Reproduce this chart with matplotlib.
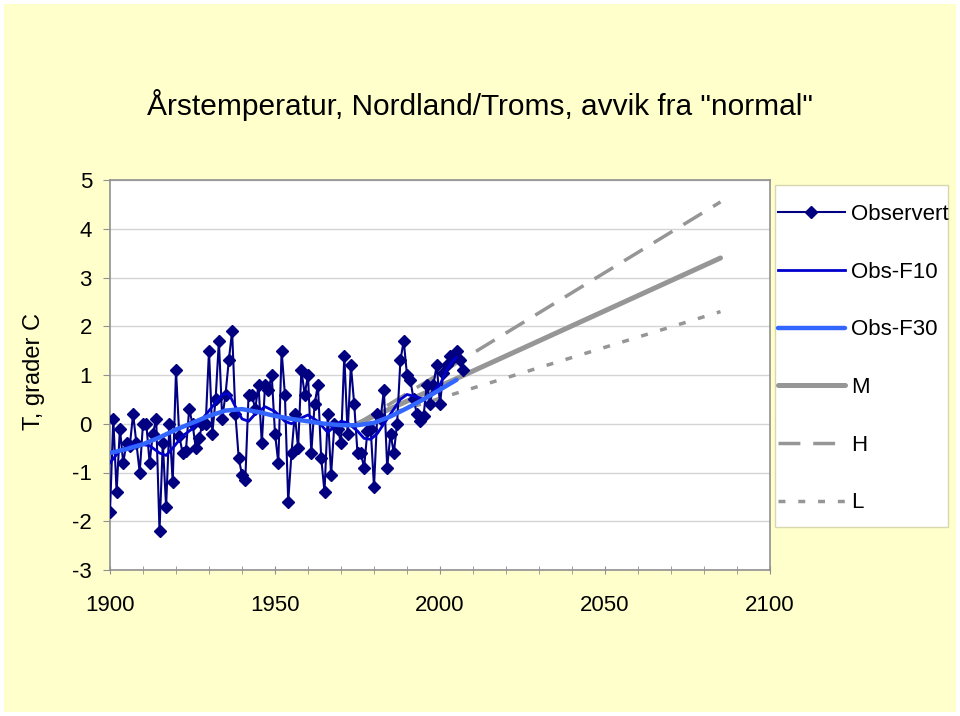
import numpy as np
import matplotlib.pyplot as plt
from matplotlib.patches import Rectangle

plt.rcParams["font.family"] = ["Liberation Sans", "DejaVu Sans"]
plt.rcParams["axes.unicode_minus"] = False

# observed annual temperature anomaly, 1900-2007
obs_years = np.arange(1900, 2008)
obs = [
    -1.8, 0.1, -1.4, -0.1, -0.8, -0.4, -0.45, 0.2, -0.4, -1.0,
    0.0, 0.0, -0.8, -0.2, 0.1, -2.2, -0.4, -1.7, 0.0, -1.2,
    1.1, -0.25, -0.6, -0.55, 0.3, 0.0, -0.5, -0.3, 0.0, 0.0,
    1.5, -0.2, 0.5, 1.7, 0.1, 0.6, 1.3, 1.9, 0.2, -0.7,
    -1.05, -1.15, 0.6, 0.6, 0.3, 0.8, -0.4, 0.8, 0.7, 1.0,
    -0.2, -0.8, 1.5, 0.6, -1.6, -0.6, 0.2, -0.5, 1.1, 0.6,
    1.0, -0.6, 0.4, 0.8, -0.7, -1.4, 0.2, -1.05, 0.0, -0.1,
    -0.4, 1.4, -0.2, 1.2, 0.4, -0.6, -0.6, -0.9, -0.15, -0.1,
    -1.3, 0.2, 0.1, 0.7, -0.9, -0.2, -0.6, 0.0, 1.3, 1.7,
    1.0, 0.9, 0.5, 0.2, 0.05, 0.15, 0.8, 0.4, 0.8, 1.2,
    0.4, 1.05, 1.2, 1.4, 1.35, 1.5, 1.3, 1.1,
]

# 10-year filtered series
f10_years = [1900, 1903, 1906, 1909, 1912, 1915, 1917, 1919, 1922, 1925,
             1928, 1931, 1934, 1936, 1938, 1940, 1942, 1944, 1947, 1950,
             1953, 1955, 1958, 1960, 1963, 1966, 1968, 1970, 1972, 1975,
             1977, 1979, 1981, 1983, 1986, 1988, 1990, 1993, 1995, 1997,
             2000, 2002, 2004, 2005]
f10 = [-0.8, -0.55, -0.45, -0.42, -0.45, -0.6, -0.65, -0.5, -0.25, -0.1,
       0.1, 0.35, 0.6, 0.62, 0.35, 0.1, 0.05, 0.2, 0.35, 0.25,
       0.05, 0.0, 0.12, 0.18, 0.05, -0.18, -0.05, 0.05, 0.02, -0.15,
       -0.3, -0.32, -0.2, 0.0, 0.3, 0.5, 0.6, 0.55, 0.5, 0.6,
       0.8, 1.1, 1.3, 1.35]

# 30-year filtered series
f30_years = [1900, 1905, 1910, 1915, 1920, 1925, 1930, 1935, 1940, 1945,
             1950, 1955, 1960, 1965, 1970, 1975, 1980, 1985, 1990, 1995,
             2000, 2005]
f30 = [-0.6, -0.52, -0.42, -0.28, -0.12, 0.02, 0.16, 0.27, 0.3, 0.24,
       0.16, 0.1, 0.05, 0.0, -0.03, -0.03, 0.02, 0.15, 0.32, 0.5,
       0.7, 0.9]

# scenarios
scen_years = [1975, 2085]
scen_m = [0.0, 3.4]
scen_h = [0.0, 4.55]
scen_l = [0.0, 2.3]

W, H = 960, 716
fig = plt.figure(figsize=(W / 100, H / 100), dpi=100, facecolor="white")
fig.patches.append(Rectangle((4 / W, 4 / H), 1 - 8 / W, 1 - 8 / H,
                             transform=fig.transFigure, facecolor="#FFFFCC",
                             edgecolor="none", zorder=-10))

ax = fig.add_axes([110 / W, 1 - 570 / H, 660 / W, 390 / H])
ax.set_facecolor("white")

gray = "#969696"
ax.plot(scen_years, scen_m, color=gray, lw=3.6, solid_capstyle="round", label="M", zorder=2)
ax.plot(scen_years, scen_h, color=gray, lw=2.5, dashes=(6.3, 3.7), label="H", zorder=2)
ax.plot(scen_years, scen_l, color=gray, lw=2.5, dashes=(2, 3.7), label="L", zorder=2)
ax.plot(obs_years, obs, color="#000080", lw=1.5, marker="D", markersize=6.5,
        label="Observert", zorder=3)
ax.plot(f10_years, f10, color="#0000CC", lw=2.0, label="Obs-F10", zorder=4)
ax.plot(f30_years, f30, color="#3366FF", lw=3.2, solid_capstyle="round",
        label="Obs-F30", zorder=4)

ax.set_xlim(1900, 2100)
ax.set_ylim(-3, 5)
ax.set_xticks([1900, 1950, 2000, 2050, 2100])
ax.set_xticks(np.arange(1900, 2101, 10), minor=True)
ax.set_yticks(np.arange(-3, 6, 1))
ax.yaxis.grid(True, color="#D4D4D4", lw=1)
ax.set_axisbelow(True)
for s in ax.spines.values():
    s.set_color("#909090")
    s.set_linewidth(1.2)
ax.tick_params(axis="x", which="both", direction="inout", length=6, color="#909090",
               labelsize=16, pad=15)
ax.tick_params(axis="y", direction="out", length=5, color="#909090", labelsize=16, pad=8)
ax.set_ylabel("T, grader C", fontsize=17)
ax.yaxis.set_label_coords((45 - 110) / 660, (570 - 372) / 390)

fig.text(480 / W, 1 - 105 / H, 'Årstemperatur, Nordland/Troms, avvik fra "normal"',
         ha="center", va="center", fontsize=21.5)

# legend box
fig.patches.append(Rectangle((775 / W, 1 - 527 / H), 173 / W, 342 / H,
                             transform=fig.transFigure, facecolor="white",
                             edgecolor="#D8D8B0", lw=1, zorder=1))
handles, labels = ax.get_legend_handles_labels()
order = ["Observert", "Obs-F10", "Obs-F30", "M", "H", "L"]
hl = dict(zip(labels, handles))
fig.legend([hl[k] for k in order], order, loc="upper left",
           bbox_to_anchor=(778 / W, 1 - 204 / H), frameon=False, fontsize=16,
           numpoints=1, handlelength=3.0, handletextpad=0.3, labelspacing=1.65,
           borderpad=0, borderaxespad=0)

fig.savefig("out.png", dpi=100, facecolor=fig.get_facecolor())
